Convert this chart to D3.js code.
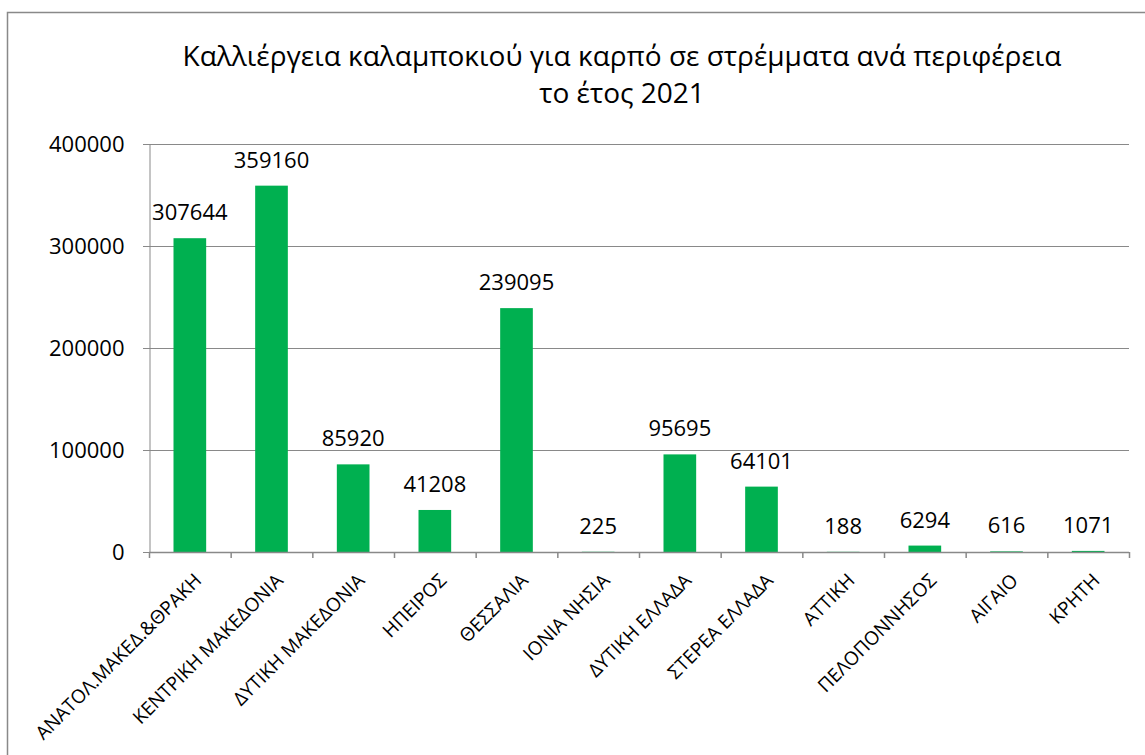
<!DOCTYPE html>
<html>
<head>
<meta charset="utf-8">
<script src="https://cdn.jsdelivr.net/npm/d3@7"></script>
<style>
  body { margin: 0; background: #fff; }
  svg { display: block; font-family: "Open Sans", "Noto Sans", sans-serif; }
</style>
</head>
<body>
<svg id="chart" width="1145" height="755"></svg>
<script>
// regions and cultivated area (stremmata), 2021
const categories = ["ΑΝΑΤΟΛ.ΜΑΚΕΔ.&ΘΡΑΚΗ", "ΚΕΝΤΡΙΚΗ ΜΑΚΕΔΟΝΙΑ", "ΔΥΤΙΚΗ ΜΑΚΕΔΟΝΙΑ", "ΗΠΕΙΡΟΣ",
    "ΘΕΣΣΑΛΙΑ", "ΙΟΝΙΑ ΝΗΣΙΑ", "ΔΥΤΙΚΗ ΕΛΛΑΔΑ", "ΣΤΕΡΕΑ ΕΛΛΑΔΑ", "ΑΤΤΙΚΗ",
    "ΠΕΛΟΠΟΝΝΗΣΟΣ", "ΑΙΓΑΙΟ", "ΚΡΗΤΗ"];
const values = [307644, 359160, 85920, 41208, 239095, 225, 95695, 64101, 188, 6294, 616, 1071];
const yTicks = [0, 100000, 200000, 300000, 400000];
const titleLines = ["Καλλιέργεια καλαμποκιού για καρπό σε στρέμματα ανά περιφέρεια", "το έτος 2021"];

const margin = { left: 149, right: 1129, top: 144, bottom: 552 };
const gridColor = "#898989";
const barColor = "#00B050";

const svg = d3.select("#chart");

// outer chart border (only left/top visible in the frame)
svg.append("rect")
    .attr("x", 7.5).attr("y", 12.5)
    .attr("width", 1200).attr("height", 800)
    .attr("fill", "none")
    .attr("stroke", gridColor)
    .attr("stroke-width", 1.5);

const x = d3.scaleBand()
    .domain(categories)
    .range([margin.left, margin.right])
    .paddingInner(0.6)
    .paddingOuter(0.3);

const y = d3.scaleLinear()
    .domain([0, 400000])
    .range([margin.bottom, margin.top]);

// gridlines
svg.append("g")
    .selectAll("line")
    .data(yTicks)
    .join("line")
    .attr("x1", margin.left - 6)
    .attr("x2", margin.right)
    .attr("y1", d => y(d) + 0.5)
    .attr("y2", d => y(d) + 0.5)
    .attr("stroke", gridColor)
    .attr("stroke-width", 1);

// y axis
const yAxis = d3.axisLeft(y)
    .tickValues(yTicks)
    .tickFormat(d3.format("d"))
    .tickSizeInner(6)
    .tickSizeOuter(0)
    .tickPadding(19);

const yAxisG = svg.append("g")
    .attr("transform", `translate(${margin.left + 0.5},0)`)
    .call(yAxis);
yAxisG.select(".domain").attr("stroke", gridColor);
yAxisG.selectAll(".tick line").attr("stroke", gridColor);
yAxisG.selectAll(".tick text")
    .attr("font-family", "Open Sans, sans-serif")
    .attr("font-size", 22)
    .attr("fill", "#000");

// bars
svg.append("g")
    .selectAll("rect")
    .data(values)
    .join("rect")
    .attr("x", (d, i) => x(categories[i]))
    .attr("y", d => y(d))
    .attr("width", x.bandwidth())
    .attr("height", d => y(0) - y(d))
    .attr("fill", barColor);

// data labels
svg.append("g")
    .selectAll("text")
    .data(values)
    .join("text")
    .attr("x", (d, i) => x(categories[i]) + x.bandwidth() / 2)
    .attr("y", d => y(d) - 18)
    .attr("text-anchor", "middle")
    .attr("font-size", 22)
    .attr("fill", "#000")
    .text(d => d);

// x axis line + ticks at band boundaries
const xEdge = d3.scaleLinear().domain([0, categories.length]).range([margin.left, margin.right]);
const xAxisG = svg.append("g");
xAxisG.append("line")
    .attr("x1", margin.left).attr("x2", margin.right)
    .attr("y1", y(0) + 0.5).attr("y2", y(0) + 0.5)
    .attr("stroke", gridColor)
    .attr("stroke-width", 1.5);
xAxisG.selectAll(".xtick")
    .data(d3.range(categories.length + 1))
    .join("line")
    .attr("class", "xtick")
    .attr("x1", d => xEdge(d) + 0.5)
    .attr("x2", d => xEdge(d) + 0.5)
    .attr("y1", y(0))
    .attr("y2", y(0) + 6)
    .attr("stroke", gridColor)
    .attr("stroke-width", 1.5);

// category labels, rotated
xAxisG.selectAll(".xlabel")
    .data(categories)
    .join("text")
    .attr("class", "xlabel")
    .attr("transform", d => `translate(${x(d) + x.bandwidth() / 2 + 8},${y(0) + 25}) rotate(-45)`)
    .attr("text-anchor", "end")
    .attr("dy", "0.35em")
    .attr("font-size", 19)
    .attr("fill", "#000")
    .text(d => d);

// title
const title = svg.append("g")
    .selectAll("text")
    .data(titleLines)
    .join("text")
    .attr("x", 622)
    .attr("y", (d, i) => 66 + i * 37)
    .attr("text-anchor", "middle")
    .attr("font-size", 26)
    .attr("fill", "#000")
    .text(d => d);

// fit title width to reference
const w = title.nodes()[0].getComputedTextLength();
title.attr("font-size", 26 * 879 / w);
</script>
</body>
</html>
